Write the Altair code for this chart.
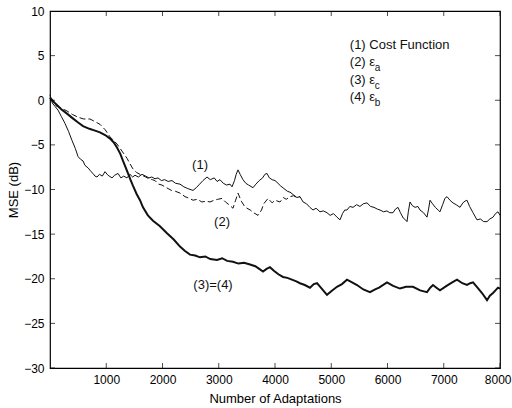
import altair as alt
import pandas as pd

# (1) Cost Function
cost_x = [0, 40, 90, 142, 200, 267, 330, 391, 450, 498, 540, 587, 622, 680, 730, 764, 800, 836, 880, 930,
          978, 1030, 1102, 1150, 1209, 1260, 1310, 1369, 1420, 1470, 1511, 1570, 1636, 1700, 1760, 1810, 1867,
          1920, 1980, 2040, 2100, 2169, 2230, 2311, 2380, 2450, 2542, 2600, 2660, 2720, 2791, 2850, 2920, 2970,
          3022, 3080, 3140, 3200, 3236, 3280, 3310, 3342, 3380, 3431, 3480, 3530, 3609, 3660, 3720, 3780, 3820,
          3858, 3900, 3950, 4000, 4036, 4100, 4160, 4220, 4267, 4330, 4390, 4444, 4500, 4560, 4620, 4676, 4730,
          4800, 4860, 4924, 4980, 5040, 5102, 5156, 5200, 5240, 5280, 5330, 5387, 5450, 5510, 5570, 5636, 5700,
          5760, 5820, 5867, 5930, 5990, 6040, 6098, 6140, 6187, 6230, 6280, 6320, 6347, 6370, 6400, 6440, 6490,
          6540, 6578, 6640, 6702, 6730, 6756, 6800, 6850, 6900, 6933, 6980, 7020, 7058, 7110, 7164, 7220, 7289,
          7340, 7380, 7413, 7460, 7520, 7591, 7650, 7710, 7769, 7820, 7876, 7920, 7964, 8000]
cost_y = [0.6, -0.3, -0.7, -1.1, -1.8, -2.6, -3.5, -4.5, -5.4, -6.3, -6.6, -6.8, -7.3, -7.6, -8.0, -8.2, -8.5,
          -8.6, -8.3, -8.5, -8.0, -8.4, -8.7, -8.4, -8.2, -8.7, -8.5, -8.7, -8.3, -8.6, -8.4, -8.6, -8.3, -8.5,
          -8.7, -8.6, -8.8, -8.7, -9.0, -8.9, -9.1, -9.0, -9.3, -9.4, -9.7, -9.9, -10.1, -9.8, -9.4, -9.0, -8.6,
          -8.9, -8.7, -9.1, -8.9, -9.3, -9.5, -9.4, -9.7, -9.0, -8.3, -7.8, -8.3, -8.9, -9.3, -9.5, -9.8, -9.4,
          -9.0, -8.7, -8.3, -8.2, -8.7, -8.9, -9.0, -9.2, -9.6, -9.9, -10.2, -10.3, -10.6, -10.9, -10.8, -11.4,
          -11.6, -12.0, -12.3, -12.1, -12.5, -12.4, -12.6, -12.9, -12.7, -13.1, -13.4, -12.7, -12.3, -12.3,
          -11.9, -12.0, -11.7, -11.9, -11.6, -11.5, -11.9, -12.0, -12.2, -12.3, -12.5, -12.4, -12.6, -12.6,
          -12.2, -12.0, -12.6, -13.2, -13.4, -13.6, -12.5, -11.4, -11.8, -12.0, -11.9, -12.3, -12.6, -13.1,
          -12.2, -11.2, -11.6, -12.0, -12.3, -12.5, -11.7, -11.0, -10.8, -11.2, -11.5, -11.7, -12.0, -11.5,
          -11.3, -11.2, -11.9, -12.6, -13.4, -13.3, -13.6, -13.6, -13.3, -13.1, -12.7, -12.5, -12.9]

# (2) epsilon_a
ea_x = [0, 100, 200, 302, 400, 498, 600, 711, 800, 889, 980, 1067, 1130, 1191, 1280, 1369, 1420, 1476, 1540,
        1600, 1636, 1700, 1760, 1820, 1867, 1930, 1990, 2044, 2100, 2160, 2230, 2311, 2400, 2480, 2542, 2620,
        2700, 2780, 2844, 2920, 2980, 3058, 3120, 3200, 3253, 3300, 3342, 3400, 3460, 3502, 3560, 3620, 3698,
        3760, 3800, 3876, 3950, 4000, 4089, 4150, 4200, 4267, 4330, 4390, 4444]
ea_y = [0.2, -0.6, -0.9, -1.2, -1.6, -1.9, -2.1, -2.1, -2.4, -2.7, -3.3, -4.1, -4.5, -4.9, -5.7, -6.5, -7.1,
        -7.7, -8.1, -8.3, -8.4, -8.6, -8.8, -8.9, -9.0, -9.4, -9.5, -9.7, -9.9, -10.1, -10.2, -10.4, -10.8,
        -11.0, -11.2, -11.1, -11.4, -11.3, -11.4, -11.2, -11.1, -11.0, -11.4, -11.8, -12.1, -11.2, -10.4,
        -11.3, -11.9, -12.1, -12.3, -12.6, -12.9, -12.3, -11.6, -11.0, -11.5, -11.2, -11.4, -10.9, -11.1,
        -10.8, -10.7, -10.9, -10.8]

# (3)=(4) epsilon_c and epsilon_b (identical curves)
ecb_x = [0, 100, 200, 302, 400, 500, 587, 700, 800, 889, 980, 1067, 1130, 1191, 1250, 1298, 1350, 1387, 1430,
         1476, 1540, 1600, 1653, 1740, 1831, 1950, 2080, 2200, 2311, 2400, 2489, 2580, 2667, 2760, 2850, 2969,
         3060, 3150, 3253, 3350, 3450, 3556, 3650, 3720, 3787, 3850, 3911, 3980, 4060, 4142, 4220, 4300, 4380,
         4444, 4530, 4622, 4690, 4747, 4830, 4924, 5000, 5102, 5190, 5280, 5370, 5458, 5570, 5689, 5780, 5850,
         5991, 6100, 6222, 6330, 6453, 6580, 6702, 6760, 6809, 6870, 6933, 7050, 7150, 7236, 7330, 7413, 7470,
         7520, 7600, 7680, 7769, 7820, 7876, 7920, 7964, 8000]
ecb_y = [0.3, -0.4, -1.0, -1.5, -2.0, -2.5, -2.9, -3.2, -3.4, -3.6, -3.9, -4.3, -4.7, -5.3, -6.0, -6.8, -7.6,
         -8.2, -8.9, -9.6, -10.5, -11.2, -12.0, -12.9, -13.5, -14.1, -14.9, -15.6, -16.4, -16.9, -17.3, -17.4,
         -17.6, -17.5, -17.8, -17.9, -17.7, -18.0, -18.1, -18.3, -18.2, -18.4, -18.6, -18.9, -19.2, -18.9,
         -18.7, -19.1, -19.5, -19.8, -19.9, -20.1, -20.3, -20.5, -20.7, -21.0, -20.6, -20.5, -21.1, -21.8,
         -21.4, -20.9, -20.6, -20.1, -20.4, -20.7, -21.2, -21.5, -21.2, -21.0, -20.4, -20.8, -21.1, -20.9,
         -20.9, -21.3, -21.5, -21.0, -20.7, -21.0, -21.3, -20.8, -20.4, -20.1, -20.5, -20.7, -20.5, -20.4,
         -21.0, -21.6, -22.4, -21.9, -21.6, -21.3, -21.0, -21.1]

x_ticks = [1000, 2000, 3000, 4000, 5000, 6000, 7000, 8000]
y_ticks = [-30, -25, -20, -15, -10, -5, 0, 5, 10]
x_domain = [0, 8000]
y_domain = [-30, 10]

# curve labels inside the plot
curve_labels = ["(1)", "(2)", "(3)=(4)"]
curve_label_x = [2667, 3058, 2898]
curve_label_y = [-7.25, -13.6, -20.7]

# legend-style notes in the upper right
note_main = ["(1) Cost Function", "(2) \u03b5", "(3) \u03b5", "(4) \u03b5"]
note_sub = ["", "a", "c", "b"]
note_x = 5330
note_y = [6.2, 4.3, 2.3, 0.4]

FONT = "Liberation Sans"
INK = "#111111"

# the last x label sits flush with the right end, pushed a little outward
X = alt.X("x:Q",
          scale=alt.Scale(domain=x_domain, nice=False, zero=False),
          axis=alt.Axis(values=x_ticks, title="Number of Adaptations", format="d",
                        labelPadding=6, labelFlush=True, labelFlushOffset=11,
                        labelOverlap=False, titleY=30, titleBaseline="middle"))
Y = alt.Y("y:Q",
          scale=alt.Scale(domain=y_domain, nice=False, zero=False),
          axis=alt.Axis(values=y_ticks, title="MSE (dB)", labelPadding=6,
                        labelFlush=False, labelOverlap=False,
                        titleX=-37, titleBaseline="middle"))

cost_df = pd.DataFrame({"x": cost_x, "y": cost_y})
ea_df = pd.DataFrame({"x": ea_x, "y": ea_y})
ecb_df = pd.DataFrame({"x": ecb_x, "y": ecb_y})

cost_line = alt.Chart(cost_df).mark_line(color=INK, strokeWidth=1).encode(x=X, y=Y)
ea_line = alt.Chart(ea_df).mark_line(color=INK, strokeWidth=1, strokeDash=[6, 3]).encode(x=X, y=Y)
ecb_line = alt.Chart(ecb_df).mark_line(color=INK, strokeWidth=2).encode(x=X, y=Y)

# inward tick marks on all four sides of the box
hticks = pd.DataFrame({"x": x_ticks + x_ticks,
                       "y": [y_domain[0]] * len(x_ticks) + [y_domain[1]] * len(x_ticks)})
vticks = pd.DataFrame({"y": y_ticks + y_ticks,
                       "x": [x_domain[0]] * len(y_ticks) + [x_domain[1]] * len(y_ticks)})
htick_layer = alt.Chart(hticks).mark_tick(orient="vertical", size=10, thickness=1,
                                          color="black", clip=True).encode(x=X, y=Y)
vtick_layer = alt.Chart(vticks).mark_tick(orient="horizontal", size=10, thickness=1,
                                          color="black", clip=True).encode(x=X, y=Y)

labels_df = pd.DataFrame({"x": curve_label_x, "y": curve_label_y, "t": curve_labels})
label_layer = alt.Chart(labels_df).mark_text(font=FONT, fontSize=13, color=INK).encode(
    x=X, y=Y, text="t:N")

notes_df = pd.DataFrame({"x": [note_x] * 4, "y": note_y, "t": note_main, "s": note_sub})
note_layer = alt.Chart(notes_df).mark_text(font=FONT, fontSize=13, color=INK, align="left").encode(
    x=X, y=Y, text="t:N")
sub_layer = alt.Chart(notes_df).mark_text(font=FONT, fontSize=10, color=INK, align="left",
                                          dx=25, dy=6).encode(x=X, y=Y, text="s:N")

chart = alt.layer(
    ea_line, cost_line, ecb_line, htick_layer, vtick_layer, label_layer, note_layer, sub_layer
).properties(
    width=450, height=357,
    autosize=alt.AutoSizeParams(type="none"),
    padding={"left": 50, "top": 11, "right": 12, "bottom": 40},
    background="white",
).configure_view(
    stroke="black", strokeWidth=1.2
).configure_axis(
    grid=False, ticks=False, domain=False,
    labelFont=FONT, labelFontSize=12, labelColor="black",
    titleFont=FONT, titleFontSize=13, titleFontWeight="normal", titleColor="black",
)

chart.save("out.html", embed_options={"renderer": "svg", "actions": False})
